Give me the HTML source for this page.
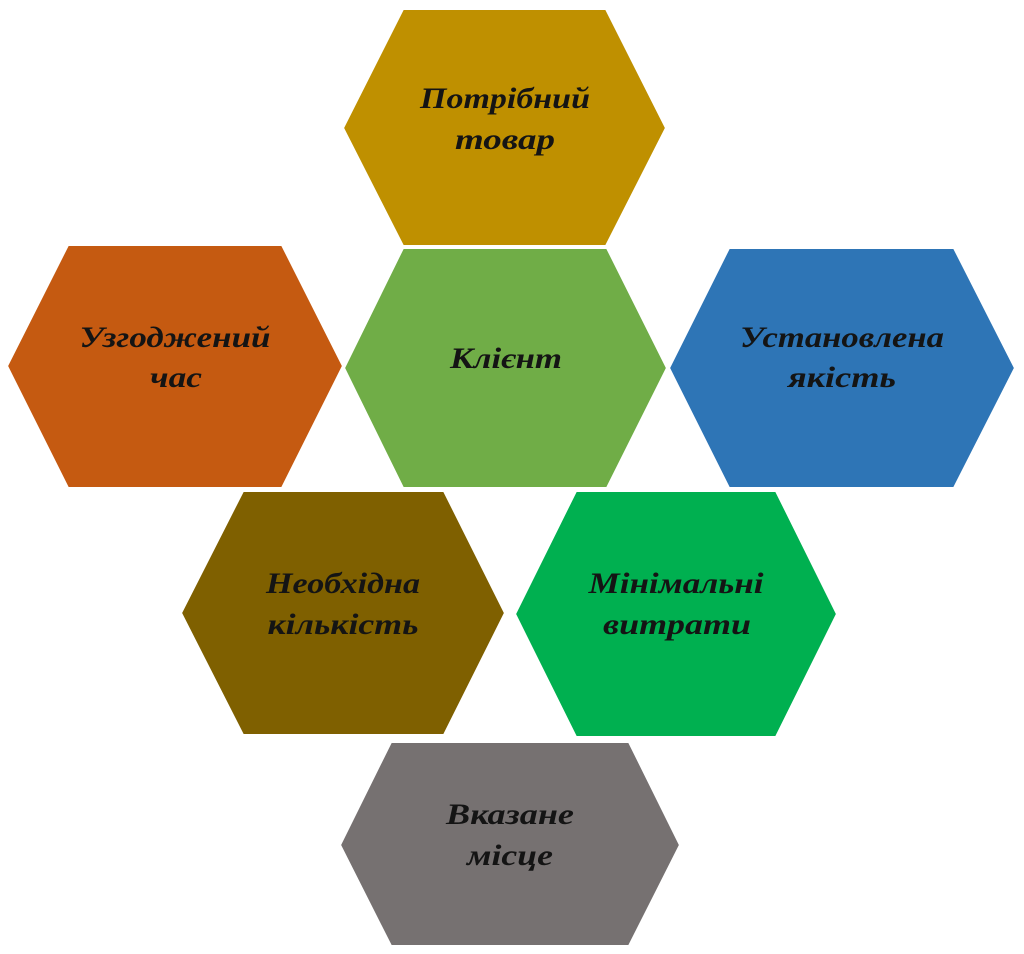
<!DOCTYPE html>
<html><head><meta charset="utf-8"><style>
html,body{margin:0;padding:0;background:#fff;}
svg{display:block;}
text{font-family:"Liberation Serif","DejaVu Serif",serif;font-weight:bold;font-style:italic;font-size:30px;fill:#141414;text-anchor:middle;}
</style></head><body>
<svg width="1024" height="954" viewBox="0 0 1024 954" xmlns="http://www.w3.org/2000/svg">
<g stroke="#fff" stroke-width="2">
<polygon fill="#BF9000" points="403,9 606,9 666,128 606,246 403,246 343,128"/>
<polygon fill="#70AD47" points="403,248 607,248 667,368 607,488 403,488 344,368"/>
<polygon fill="#C55A11" points="68,245 282,245 343,366 282,488 68,488 7,366"/>
<polygon fill="#2E75B6" points="729,248 954,248 1015,368 954,488 729,488 669,368"/>
<polygon fill="#7F6000" points="243,491 444,491 505,613 444,735 243,735 181,613"/>
<polygon fill="#00B050" points="576,491 776,491 837,614 776,737 576,737 515,614"/>
<polygon fill="#767171" points="391,742 629,742 680,845 629,946 391,946 340,845"/>
</g>
<g lengthAdjust="spacingAndGlyphs">
<text x="505" y="108" textLength="170" lengthAdjust="spacingAndGlyphs">Потрібний</text>
<text x="505" y="149" textLength="100" lengthAdjust="spacingAndGlyphs">товар</text>
<text x="506" y="368" textLength="112" lengthAdjust="spacingAndGlyphs">Клієнт</text>
<text x="175" y="347" textLength="191" lengthAdjust="spacingAndGlyphs">Узгоджений</text>
<text x="176" y="387" textLength="52" lengthAdjust="spacingAndGlyphs">час</text>
<text x="842" y="347" textLength="204" lengthAdjust="spacingAndGlyphs">Установлена</text>
<text x="842" y="387" textLength="108" lengthAdjust="spacingAndGlyphs">якість</text>
<text x="343" y="593" textLength="154" lengthAdjust="spacingAndGlyphs">Необхідна</text>
<text x="343" y="634" textLength="151" lengthAdjust="spacingAndGlyphs">кількість</text>
<text x="676" y="593" textLength="175" lengthAdjust="spacingAndGlyphs">Мінімальні</text>
<text x="677" y="634" textLength="148" lengthAdjust="spacingAndGlyphs">витрати</text>
<text x="510" y="824" textLength="128" lengthAdjust="spacingAndGlyphs">Вказане</text>
<text x="510" y="865" textLength="86" lengthAdjust="spacingAndGlyphs">місце</text>
</g>
</svg>
</body></html>
